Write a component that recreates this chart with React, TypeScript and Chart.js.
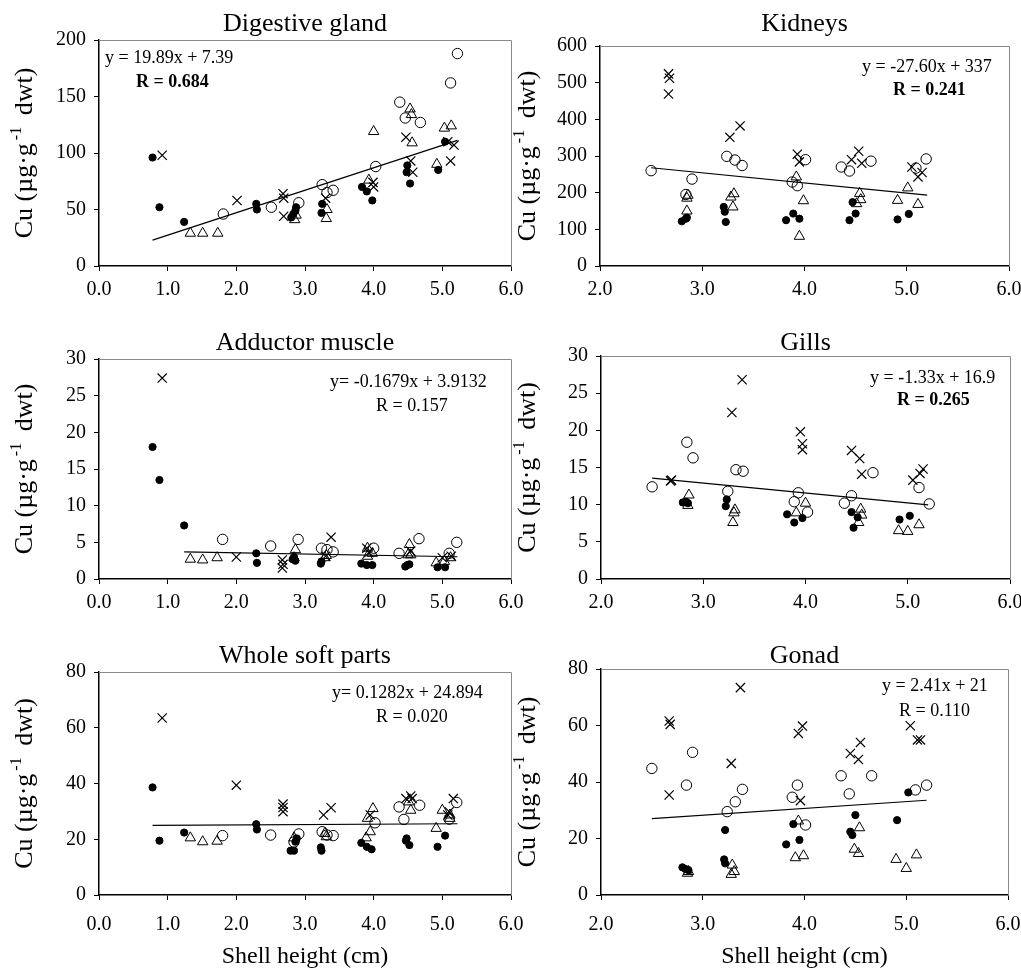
import React, { useEffect, useRef } from 'react';
import { Chart, registerables } from 'chart.js';

Chart.register(...registerables);

const SERIF = '"Liberation Serif", "Times New Roman", Times, serif';

type Pt = [number, number];

// ---------------- Digestive gland ----------------
const dgFilled: Pt[] = [[0.78, 96], [0.88, 52], [1.24, 39], [2.29, 55], [2.30, 50], [2.80, 43], [2.83, 46], [2.86, 49], [2.87, 52], [3.24, 47], [3.25, 55], [3.83, 70], [3.90, 66], [3.98, 58], [4.48, 83], [4.49, 89], [4.53, 73], [4.94, 85], [5.04, 110]];
const dgOpen: Pt[] = [[1.81, 46], [2.51, 52], [2.91, 56], [3.25, 72], [3.32, 65], [3.41, 67], [4.03, 88], [4.38, 145], [4.46, 131], [4.68, 127], [5.12, 162], [5.22, 188]];
const dgTri: Pt[] = [[1.33, 29], [1.51, 29], [1.73, 29], [2.85, 41], [2.87, 45], [3.31, 42], [3.32, 50], [3.93, 76], [4.00, 119], [4.53, 139], [4.55, 134], [4.56, 109], [4.92, 90], [5.03, 122], [5.13, 124]];
const dgCross: Pt[] = [[0.92, 98], [2.01, 58], [2.68, 64], [2.69, 60], [2.69, 44], [3.30, 60], [3.99, 74], [4.00, 70], [4.47, 114], [4.54, 93], [4.57, 83], [5.08, 110], [5.12, 93], [5.17, 107]];

// ---------------- Kidneys ----------------
const kdFilled: Pt[] = [[2.80, 122], [2.84, 129], [2.85, 132], [3.21, 161], [3.22, 148], [3.23, 120], [3.82, 125], [3.89, 143], [3.95, 129], [4.44, 125], [4.47, 174], [4.50, 143], [4.91, 127], [5.02, 142]];
const kdOpen: Pt[] = [[2.50, 260], [2.84, 195], [2.90, 237], [3.24, 299], [3.32, 289], [3.39, 274], [3.88, 229], [3.93, 219], [4.01, 290], [4.36, 270], [4.44, 259], [4.65, 286], [5.09, 267], [5.19, 292]];
const kdTri: Pt[] = [[2.85, 150], [2.85, 185], [2.86, 193], [3.28, 188], [3.31, 197], [3.30, 161], [3.92, 243], [3.99, 178], [3.95, 81], [4.54, 198], [4.55, 181], [4.51, 170], [4.91, 179], [5.01, 213], [5.11, 168]];
const kdCross: Pt[] = [[2.67, 524], [2.68, 512], [2.67, 469], [3.27, 351], [3.37, 382], [3.93, 305], [3.95, 284], [4.46, 290], [4.53, 313], [4.56, 280], [5.05, 270], [5.11, 243], [5.15, 255]];

// ---------------- Adductor muscle ----------------
const amFilled: Pt[] = [[0.78, 18.0], [0.88, 13.5], [1.24, 7.3], [2.29, 3.5], [2.30, 2.2], [2.82, 2.7], [2.84, 3.0], [2.86, 2.5], [3.23, 2.1], [3.24, 2.4], [3.82, 2.1], [3.90, 1.9], [3.98, 1.9], [4.46, 1.7], [4.49, 1.9], [4.52, 2.0], [4.93, 1.6], [5.04, 1.6]];
const amOpen: Pt[] = [[1.80, 5.4], [2.50, 4.5], [2.90, 5.4], [3.24, 4.2], [3.32, 4.0], [3.41, 3.7], [4.00, 4.2], [4.37, 3.5], [4.66, 5.5], [5.10, 3.5], [5.21, 5.0]];
const amTri: Pt[] = [[1.33, 2.7], [1.51, 2.6], [1.72, 2.9], [2.84, 2.9], [2.86, 4.0], [3.29, 2.9], [3.31, 3.2], [3.91, 3.1], [3.91, 4.2], [3.98, 3.5], [4.50, 3.3], [4.52, 4.7], [4.54, 3.3], [4.91, 2.2], [5.03, 2.4], [5.12, 2.9]];
const amCross: Pt[] = [[0.92, 27.4], [2.00, 3.0], [2.67, 2.6], [2.68, 2.0], [2.67, 1.5], [3.30, 3.1], [3.38, 5.7], [3.90, 4.2], [3.93, 3.6], [4.54, 3.8], [5.00, 2.9], [5.13, 3.1]];

// ---------------- Gills ----------------
const glFilled: Pt[] = [[2.80, 10.3], [2.83, 10.4], [2.85, 10.2], [3.22, 9.8], [3.23, 10.7], [3.82, 8.7], [3.89, 7.6], [3.97, 8.2], [4.45, 9.0], [4.47, 6.9], [4.51, 8.3], [4.92, 8.0], [5.02, 8.5]];
const glOpen: Pt[] = [[2.50, 12.4], [2.84, 18.4], [2.90, 16.3], [3.24, 11.8], [3.32, 14.7], [3.39, 14.5], [3.89, 10.4], [3.93, 11.6], [4.02, 9.0], [4.38, 10.2], [4.45, 11.2], [4.66, 14.3], [5.11, 12.3], [5.21, 10.1]];
const glTri: Pt[] = [[2.85, 9.9], [2.86, 11.3], [3.29, 7.6], [3.30, 8.9], [3.31, 9.3], [3.91, 8.9], [4.00, 10.2], [4.52, 7.6], [4.54, 9.4], [4.55, 8.6], [4.91, 6.5], [5.00, 6.4], [5.11, 7.3]];
const glCross: Pt[] = [[2.68, 13.2], [2.69, 13.3], [3.28, 22.4], [3.38, 26.8], [3.95, 19.8], [3.97, 18.2], [3.97, 17.4], [4.45, 17.3], [4.53, 16.2], [4.55, 14.1], [5.05, 13.3], [5.12, 14.2], [5.15, 14.8]];

// ---------------- Whole soft parts ----------------
const wsFilled: Pt[] = [[0.78, 38.6], [0.88, 19.5], [1.24, 22.4], [2.29, 25.4], [2.30, 23.5], [2.79, 15.9], [2.84, 15.9], [2.86, 19.1], [2.88, 20.3], [3.23, 17.1], [3.24, 15.9], [3.82, 18.7], [3.90, 17.3], [3.97, 16.4], [4.47, 19.5], [4.48, 20.3], [4.52, 17.9], [4.93, 17.3], [5.04, 21.3]];
const wsOpen: Pt[] = [[1.80, 21.3], [2.50, 21.5], [2.84, 19.0], [2.91, 21.9], [3.25, 22.7], [3.32, 21.5], [3.41, 21.3], [4.02, 25.9], [4.37, 31.6], [4.44, 27.1], [4.67, 32.2], [5.10, 27.2], [5.21, 33.2]];
const wsTri: Pt[] = [[1.33, 20.5], [1.51, 19.1], [1.72, 19.3], [2.84, 20.5], [3.29, 22.1], [3.31, 20.9], [3.89, 20.5], [3.91, 27.5], [3.95, 22.7], [3.99, 31.0], [4.51, 33.4], [4.54, 30.4], [4.91, 23.9], [5.00, 30.4], [5.11, 28.7], [5.11, 27.5]];
const wsCross: Pt[] = [[0.92, 63.5], [2.00, 39.4], [2.68, 32.6], [2.68, 31.4], [2.68, 29.9], [3.27, 28.7], [3.38, 31.3], [3.95, 28.7], [4.47, 34.6], [4.54, 35.5], [4.56, 34.6], [5.08, 28.7], [5.10, 29.9], [5.16, 34.6]];

// ---------------- Gonad ----------------
const gnFilled: Pt[] = [[2.80, 9.8], [2.83, 9.2], [2.86, 8.8], [3.21, 12.6], [3.22, 11.2], [3.22, 23.0], [3.82, 17.9], [3.89, 25.1], [3.95, 19.5], [4.45, 22.4], [4.47, 21.2], [4.50, 28.3], [4.91, 26.5], [5.02, 36.3]];
const gnOpen: Pt[] = [[2.50, 44.8], [2.84, 38.9], [2.90, 50.5], [3.24, 29.5], [3.32, 33.0], [3.39, 37.4], [3.88, 34.6], [3.93, 38.9], [4.01, 24.8], [4.36, 42.2], [4.44, 35.8], [4.66, 42.2], [5.09, 37.2], [5.20, 38.9]];
const gnTri: Pt[] = [[2.85, 7.7], [2.86, 8.3], [3.28, 7.3], [3.29, 10.6], [3.31, 8.3], [3.91, 13.2], [3.94, 26.2], [3.99, 13.9], [4.49, 16.2], [4.53, 14.7], [4.54, 23.8], [4.90, 12.6], [5.00, 9.4], [5.10, 14.2]];
const gnCross: Pt[] = [[2.67, 61.6], [2.68, 60.4], [2.67, 35.4], [3.28, 46.6], [3.37, 73.4], [3.94, 57.2], [3.98, 59.8], [3.96, 33.4], [4.45, 50.1], [4.53, 48.0], [4.55, 54.0], [5.04, 59.9], [5.11, 54.9], [5.14, 54.9]];

// regression fits: [slope, intercept, xFrom, xTo]
const dgFit = [19.89, 7.39, 0.78, 5.22];
const kdFit = [-27.6, 337, 2.5, 5.2];
const amFit = [-0.1679, 3.9132, 1.24, 5.22];
const glFit = [-1.33, 16.9, 2.5, 5.2];
const wsFit = [0.1282, 24.894, 0.78, 5.22];
const gnFit = [2.41, 21, 2.5, 5.2];

// panel titles and annotations
const titles = ['Digestive gland', 'Kidneys', 'Adductor muscle', 'Gills', 'Whole soft parts', 'Gonad'];
const equations = ['y = 19.89x + 7.39', 'y = -27.60x + 337', 'y= -0.1679x + 3.9132', 'y = -1.33x + 16.9', 'y= 0.1282x + 24.894', 'y = 2.41x + 21'];
const rTexts = ['R = 0.684', 'R = 0.241', 'R = 0.157', 'R = 0.265', 'R = 0.020', 'R = 0.110'];
const rBold = [true, true, false, true, false, false];
const xRanges = [[0, 6], [2, 6], [0, 6], [2, 6], [0, 6], [2, 6]];
const yMaxes = [200, 600, 30, 30, 80, 80];
const ySteps = [50, 100, 5, 5, 20, 20];
const xAxisTitle = 'Shell height (cm)';

interface Layout {
  cl: number; ct: number; cw: number; ch: number;
  l: number; t: number; r: number; b: number;
  titleBase: number;
  eqX: number; eqY: number; rX: number; rY: number;
  yTitleX: number;
  xPad: number;
  xTitle: boolean;
}

const layouts: Layout[] = [
  { cl: 0, ct: 0, cw: 530, ch: 305, l: 99, t: 40, r: 511, b: 266, titleBase: 31, eqX: 105, eqY: 63, rX: 136, rY: 87, yTitleX: 32, xPad: 7, xTitle: false },
  { cl: 505, ct: 0, cw: 516, ch: 305, l: 600, t: 46, r: 1009, b: 266, titleBase: 31, eqX: 862, eqY: 72, rX: 893, rY: 95, yTitleX: 535, xPad: 7, xTitle: false },
  { cl: 0, ct: 305, cw: 530, ch: 310, l: 99, t: 359, r: 511, b: 579, titleBase: 350, eqX: 330, eqY: 387, rX: 376, rY: 411, yTitleX: 32, xPad: 7, xTitle: false },
  { cl: 505, ct: 305, cw: 516, ch: 310, l: 601, t: 356, r: 1010, b: 579, titleBase: 350, eqX: 870, eqY: 383, rX: 897, rY: 405, yTitleX: 535, xPad: 7, xTitle: false },
  { cl: 0, ct: 615, cw: 530, ch: 354, l: 99, t: 672, r: 511, b: 895, titleBase: 663, eqX: 332, eqY: 698, rX: 376, rY: 722, yTitleX: 32, xPad: 13, xTitle: true },
  { cl: 505, ct: 615, cw: 516, ch: 354, l: 601, t: 669, r: 1008, b: 895, titleBase: 663, eqX: 882, eqY: 691, rX: 899, rY: 716, yTitleX: 535, xPad: 13, xTitle: true },
];

const seriesSets: Pt[][][] = [
  [dgFilled, dgOpen, dgTri, dgCross],
  [kdFilled, kdOpen, kdTri, kdCross],
  [amFilled, amOpen, amTri, amCross],
  [glFilled, glOpen, glTri, glCross],
  [wsFilled, wsOpen, wsTri, wsCross],
  [gnFilled, gnOpen, gnTri, gnCross],
];
const fits = [dgFit, kdFit, amFit, glFit, wsFit, gnFit];

const markerStyles = [
  { pointStyle: 'circle', pointRadius: 3.6, pointBackgroundColor: '#000', pointBorderColor: '#000', pointBorderWidth: 1 },
  { pointStyle: 'circle', pointRadius: 5.2, pointBackgroundColor: 'rgba(0,0,0,0)', pointBorderColor: '#000', pointBorderWidth: 1 },
  { pointStyle: 'triangle', pointRadius: 6, pointBackgroundColor: 'rgba(0,0,0,0)', pointBorderColor: '#000', pointBorderWidth: 1 },
  { pointStyle: 'crossRot', pointRadius: 6.5, pointBackgroundColor: 'rgba(0,0,0,0)', pointBorderColor: '#000', pointBorderWidth: 1.2 },
];

function Panel({ idx }: { idx: number }) {
  const ref = useRef<HTMLCanvasElement | null>(null);
  useEffect(() => {
    const L = layouts[idx];
    const [xMin, xMax] = xRanges[idx];
    const [slope, icpt, f0, f1] = fits[idx];
    const datasets: any[] = seriesSets[idx].map((pts, si) => ({
      type: 'scatter',
      data: pts.map(([x, y]) => ({ x, y })),
      ...markerStyles[si],
    }));
    datasets.unshift({
      type: 'line',
      data: [{ x: f0, y: slope * f0 + icpt }, { x: f1, y: slope * f1 + icpt }],
      borderColor: '#000',
      borderWidth: 1.2,
      pointRadius: 0,
      fill: false,
      tension: 0,
      showLine: true,
    });

    const annot = {
      id: 'annot' + idx,
      beforeDatasetsDraw(chart: any) {
        const ctx = chart.ctx;
        const a = chart.chartArea;
        ctx.save();
        ctx.strokeStyle = '#8a8a8a';
        ctx.lineWidth = 1;
        ctx.beginPath();
        ctx.moveTo(Math.round(a.left) + 0.5, Math.round(a.top) + 0.5);
        ctx.lineTo(Math.round(a.right) + 0.5, Math.round(a.top) + 0.5);
        ctx.lineTo(Math.round(a.right) + 0.5, Math.round(a.bottom) + 0.5);
        ctx.stroke();
        ctx.restore();
      },
      afterDraw(chart: any) {
        const ctx = chart.ctx;
        const a = chart.chartArea;
        const cx = (a.left + a.right) / 2;
        ctx.save();
        ctx.fillStyle = '#000';
        ctx.textBaseline = 'alphabetic';
        // panel title
        ctx.font = `26px ${SERIF}`;
        ctx.textAlign = 'center';
        ctx.fillText(titles[idx], cx, L.titleBase - L.ct);
        // equation and R
        ctx.textAlign = 'left';
        ctx.font = `18px ${SERIF}`;
        ctx.fillText(equations[idx], L.eqX - L.cl, L.eqY - L.ct);
        ctx.font = `${rBold[idx] ? 'bold ' : ''}18px ${SERIF}`;
        ctx.fillText(rTexts[idx], L.rX - L.cl, L.rY - L.ct);
        // x axis title
        if (L.xTitle) {
          ctx.textAlign = 'center';
          ctx.font = `24px ${SERIF}`;
          ctx.fillText(xAxisTitle, cx, 963 - L.ct);
        }
        // y axis title with superscript
        ctx.translate(L.yTitleX - L.cl, (a.top + a.bottom) / 2);
        ctx.rotate(-Math.PI / 2);
        ctx.textAlign = 'left';
        const p1 = 'Cu (\u00b5g\u00b7g';
        const sup = '-1';
        const p3 = ' dwt)';
        ctx.font = `26px ${SERIF}`;
        const w1 = ctx.measureText(p1).width;
        const w3 = ctx.measureText(p3).width;
        ctx.font = `16px ${SERIF}`;
        const w2 = ctx.measureText(sup).width + 8;
        let x = -(w1 + w2 + w3) / 2;
        ctx.font = `26px ${SERIF}`;
        ctx.fillText(p1, x, 0);
        x += w1;
        ctx.font = `16px ${SERIF}`;
        ctx.fillText(sup, x + 3, -11);
        x += w2;
        ctx.font = `26px ${SERIF}`;
        ctx.fillText(p3, x, 0);
        ctx.restore();
      },
    };

    const xH = L.ch - (L.b - L.ct);
    const yW = L.l - L.cl;
    const chart = new Chart(ref.current as HTMLCanvasElement, {
      type: 'scatter',
      data: { datasets },
      plugins: [annot],
      options: {
        responsive: false,
        animation: false,
        devicePixelRatio: 1,
        events: [],
        layout: { padding: { left: 0, top: L.t - L.ct, right: L.cl + L.cw - L.r, bottom: 0 } },
        plugins: { legend: { display: false }, tooltip: { enabled: false }, title: { display: false } },
        scales: {
          x: {
            type: 'linear',
            min: xMin,
            max: xMax,
            afterFit: (s: any) => { s.height = xH; s.paddingLeft = 0; s.paddingRight = 0; },
            ticks: {
              stepSize: 1,
              autoSkip: false,
              maxRotation: 0,
              color: '#000',
              padding: L.xPad,
              font: { family: SERIF, size: 20 },
              callback: (v: any) => Number(v).toFixed(1),
            },
            grid: { drawOnChartArea: false, drawTicks: true, tickLength: 5, color: '#000', lineWidth: 1 },
            border: { display: true, color: '#000', width: 1.5 },
          },
          y: {
            type: 'linear',
            min: 0,
            max: yMaxes[idx],
            afterFit: (s: any) => { s.width = yW; s.paddingTop = 0; s.paddingBottom = 0; },
            ticks: {
              stepSize: ySteps[idx],
              autoSkip: false,
              color: '#000',
              padding: 8,
              font: { family: SERIF, size: 20 },
            },
            grid: { drawOnChartArea: false, drawTicks: true, tickLength: 5, color: '#000', lineWidth: 1 },
            border: { display: true, color: '#000', width: 1.5 },
          },
        },
      } as any,
    });
    return () => chart.destroy();
  }, [idx]);
  const L = layouts[idx];
  return (
    <canvas
      ref={ref}
      width={L.cw}
      height={L.ch}
      style={{ position: 'absolute', left: L.cl, top: L.ct, width: L.cw, height: L.ch, display: 'block' }}
    />
  );
}

export default function App() {
  return (
    <div style={{ position: 'absolute', left: 0, top: 0, width: 1021, height: 969, background: '#fff', overflow: 'hidden' }}>
      {layouts.map((_, i) => (
        <Panel key={i} idx={i} />
      ))}
    </div>
  );
}
